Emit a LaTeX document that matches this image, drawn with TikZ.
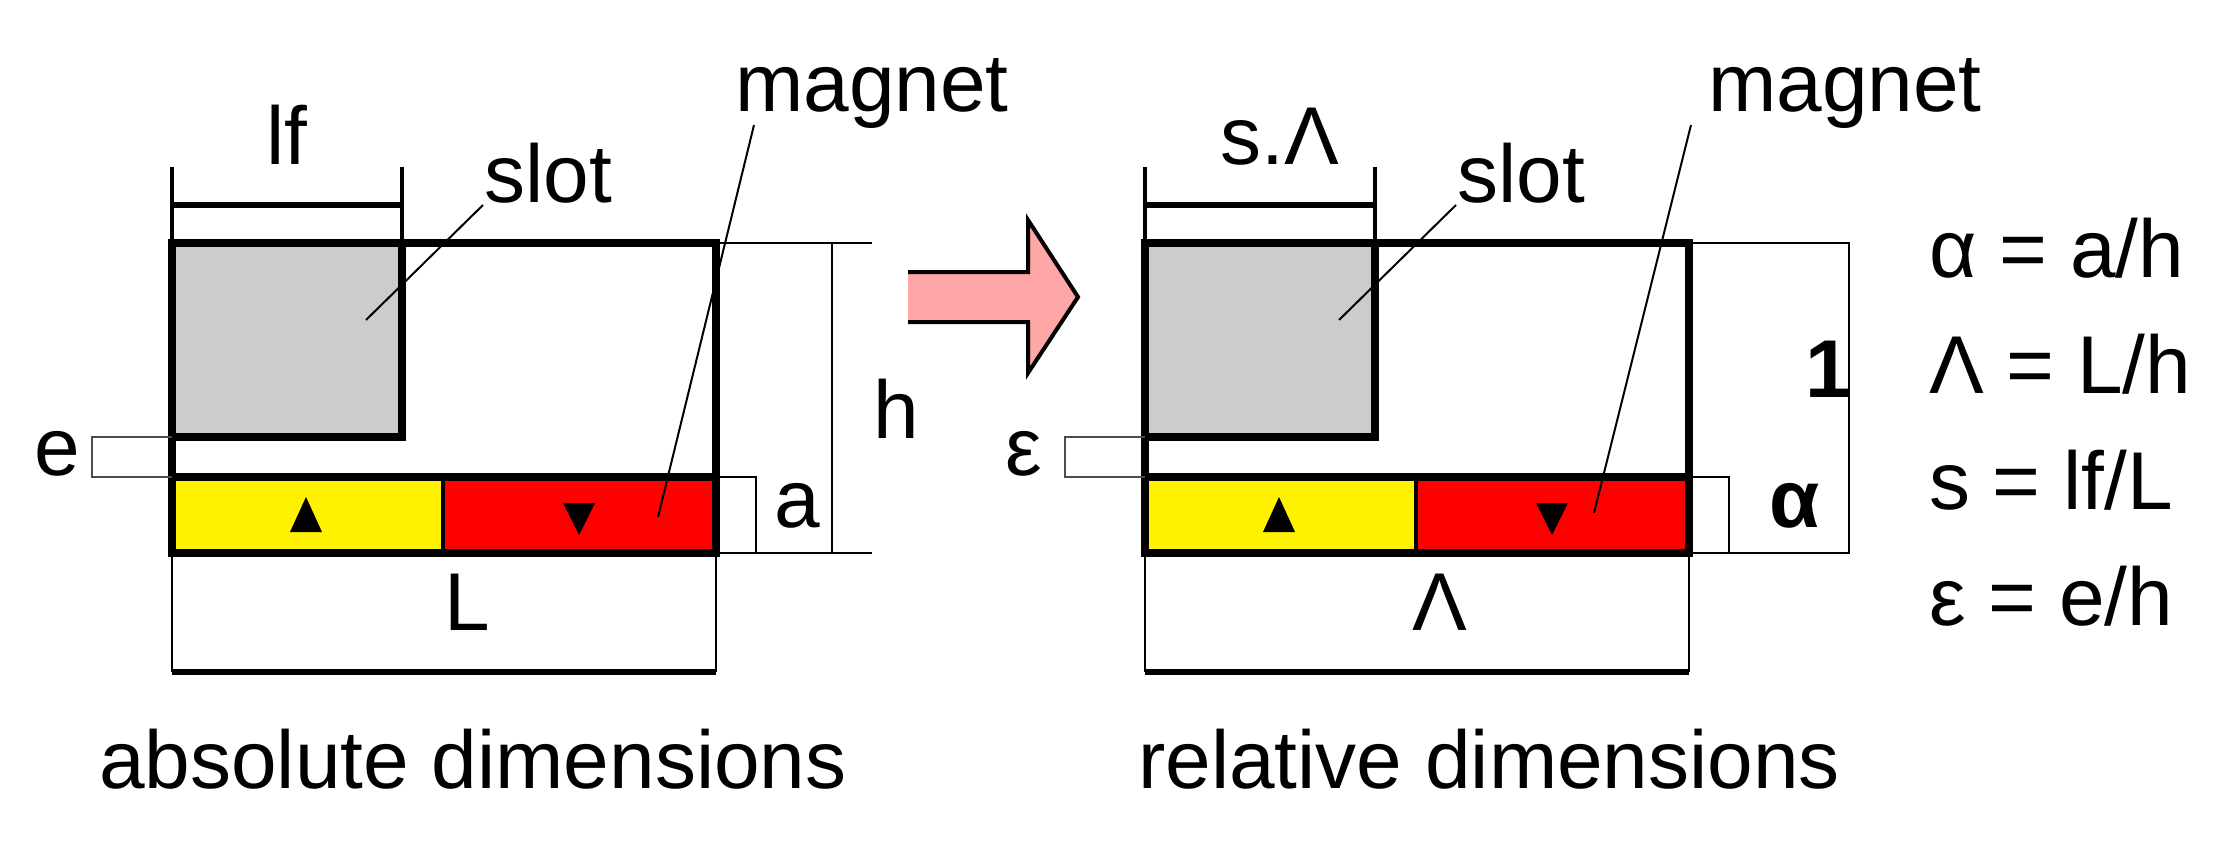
\documentclass[tikz,border=0pt]{standalone}
\usepackage{fontspec}
\setmainfont{Liberation Sans}
\begin{document}
\begin{tikzpicture}[x=1pt,y=-1pt,
  thick line/.style={line width=7.5pt},
  thin line/.style={line width=2.5pt},
  lbl/.style={inner sep=0pt,font=\fontsize{82}{90}\selectfont},
  lead/.style={line width=2pt}]
\useasboundingbox (0,0) rectangle (2230,845);
\foreach \dx in {0,973}{
\begin{scope}[xshift=\dx pt]
  \fill[gray!40] (172,243) rectangle (402,437);
  \fill[yellow] (172,477) rectangle (443,553);
  \fill[red] (443,477) rectangle (716,553);
  \draw[thick line] (172,243) rectangle (716,553);
  \draw[thick line] (172,437) -- (402,437) -- (402,243);
  \draw[thick line] (172,477) -- (716,477);
  \draw[line width=4pt] (443,477) -- (443,553);
  \fill (306,497) -- (322,532) -- (290,532) -- cycle;
  \fill (579,535) -- (563,503) -- (595,503) -- cycle;
  % top dimension
  \draw[line width=4pt] (172,167) -- (172,243) (402,167) -- (402,243);
  \draw[line width=6pt] (172,205) -- (402,205);
  % bottom dimension
  \draw[thin line] (172,553) -- (172,672) (716,553) -- (716,672);
  \draw[line width=6pt] (172,672) -- (716,672);
  % a
  \draw[thin line] (716,477) -- (756,477) -- (756,553);
  % e
  \draw[line width=2pt,black!70] (172,437) -- (92,437) -- (92,477) -- (172,477);
  % slot label
  \node[lbl,anchor=base west] (slot\dx) at (484,203) {slot};
  \coordinate (slotend\dx) at (366,320);
  \draw[lead] (483,205) -- (slotend\dx);
\end{scope}}
% magnet labels
\node[lbl,anchor=base west] (mag1) at (735,112) {magnet};
\node[lbl,anchor=base west] (mag2) at (1708,112) {magnet};
\coordinate (m1) at (658,517); \coordinate (m2) at (1594,513);
\draw[lead] (754,125) -- (m1);
\draw[lead] (1691,125) -- (m2);
% dimension labels left
\node[lbl,anchor=base] (lf) at (287,165) {lf};
\node[lbl,anchor=base] (L) at (467,630) {L};
\node[lbl,anchor=base] (a) at (797,527) {a};
\node[lbl,anchor=base] (e) at (57,475) {e};
\node[lbl,anchor=base] (h) at (896,438) {h};
% right labels
\node[lbl,anchor=base] (sL) at (1280,165) {s.Λ};
\node[lbl,anchor=base] (Lam) at (1440,630) {Λ};
\node[lbl,anchor=base,font=\fontsize{82}{90}\selectfont\bfseries] (al) at (1795,527) {α};
\node[lbl,anchor=base] (eps) at (1024,475) {ε};
\node[lbl,anchor=base,font=\fontsize{82}{90}\selectfont\bfseries] (one) at (1828,397) {1};
% h dimension
\draw[thin line] (716,243) -- (872,243) (716,553) -- (872,553) (832,243) -- (832,553);
% 1 dimension
\draw[thin line] (1689,243) -- (1849,243) -- (1849,553) -- (1689,553);
% arrow
\fill[red!35] (908,272) -- (1028,272) -- (1028,220) -- (1078,297) -- (1028,373) -- (1028,322) -- (908,322) -- cycle;
\draw[line width=4pt,line join=miter] (908,272) -- (1028,272) -- (1028,220) -- (1078,297) -- (1028,373) -- (1028,322) -- (908,322);
% equations
\node[lbl,anchor=base west] (q1) at (1929,277) {α = a/h};
\node[lbl,anchor=base west] (q2) at (1929,393) {Λ = L/h};
\node[lbl,anchor=base west] (q3) at (1929,509) {s = lf/L};
\node[lbl,anchor=base west] (q4) at (1929,625) {ε = e/h};
% captions
\node[lbl,anchor=base west] (c1) at (99,788) {absolute dimensions};
\node[lbl,anchor=base west] (c2) at (1138,788) {relative dimensions};
\end{tikzpicture}
\end{document}
